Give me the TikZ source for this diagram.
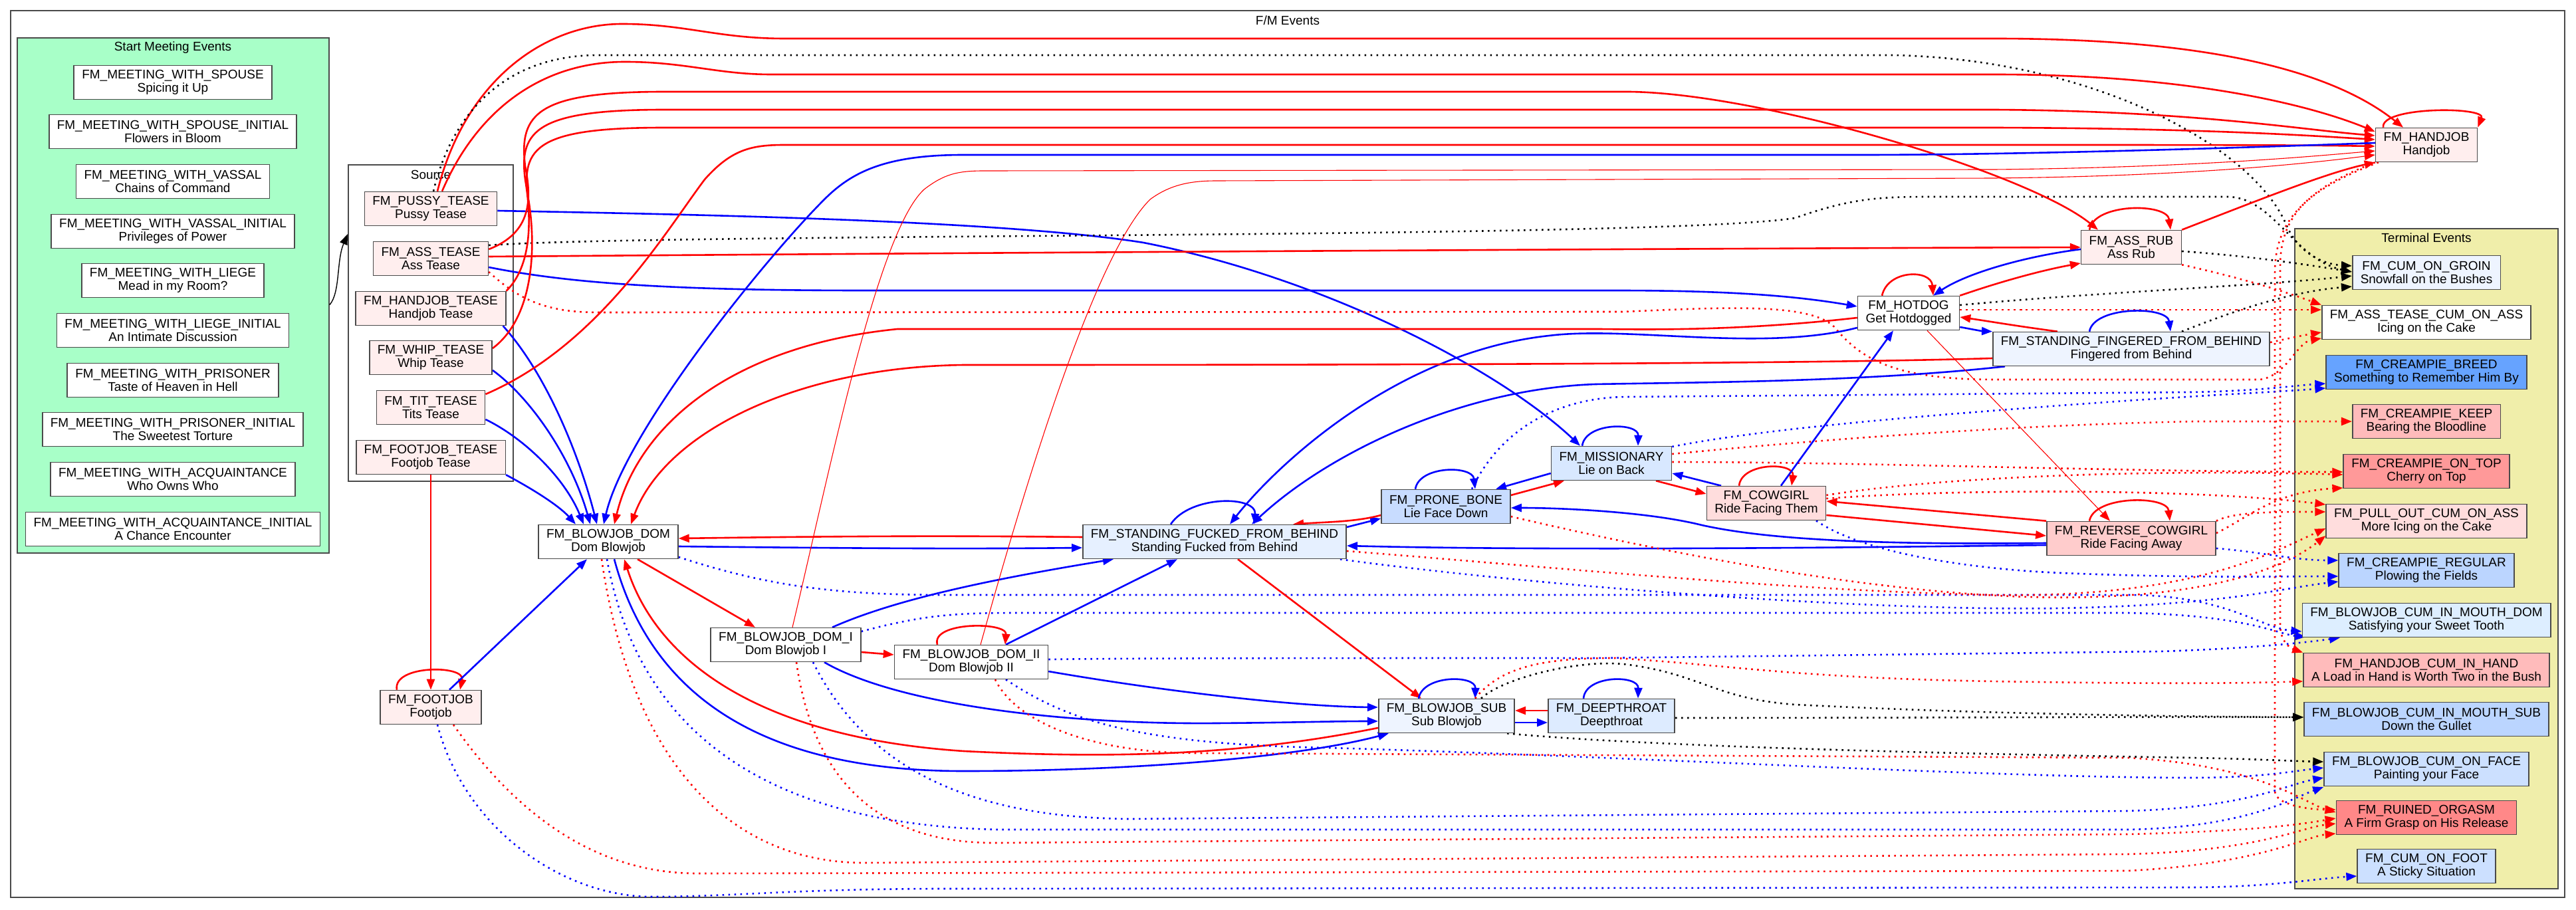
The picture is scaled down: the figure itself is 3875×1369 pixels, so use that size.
\documentclass[tikz,border=0pt]{standalone}
\usepackage{fontspec}
\setmainfont{Liberation Sans}
\usetikzlibrary{arrows.meta,fit}
\pgfdeclarelayer{bg}
\pgfdeclarelayer{edges}
\pgfsetlayers{bg,edges,main}
\definecolor{grayline}{HTML}{4A4A4A}
\definecolor{startbg}{HTML}{A8FFC8}
\definecolor{termbg}{HTML}{F0EEAA}
\definecolor{cPink}{HTML}{FFEEEE}
\definecolor{cSF}{HTML}{E6F0FF}
\definecolor{cFing}{HTML}{EEF4FF}
\definecolor{cMiss}{HTML}{D8E8FF}
\definecolor{cProne}{HTML}{C8DCFF}
\definecolor{cCow}{HTML}{FFDDDD}
\definecolor{cRev}{HTML}{FFCCCC}
\definecolor{cSub}{HTML}{EEF4FF}
\definecolor{cDeep}{HTML}{DDEBFF}
\definecolor{cBreed}{HTML}{66A3FF}
\definecolor{cKeep}{HTML}{FFBBBB}
\definecolor{cTop}{HTML}{FF9999}
\definecolor{cPull}{HTML}{FFDDDD}
\definecolor{cReg}{HTML}{BBD5FF}
\definecolor{cCmd}{HTML}{DDEEFF}
\definecolor{cCih}{HTML}{FFBBBB}
\definecolor{cCms}{HTML}{BBD5FF}
\definecolor{cFace}{HTML}{CCE0FF}
\definecolor{cRuin}{HTML}{FF8888}
\definecolor{cFoot}{HTML}{CCE0FF}
\tikzset{
  ev/.style={draw=grayline, line width=0.8pt, rectangle, align=center, inner xsep=6pt, inner ysep=0pt,
    minimum height=25.5pt, font=\fontsize{9.5}{10}\selectfont, fill=white},
  cl/.style={draw=grayline, line width=0.9pt, inner sep=0pt},
  outerbox/.style={draw=grayline, line width=1pt, inner sep=0pt, fill=white},
  ttl/.style={font=\fontsize{9.5}{10}\selectfont, inner sep=0pt},
  tipA/.style={-{Triangle[length=8pt,width=6pt]}},
  eRS/.style={draw=red, line width=1.3pt, tipA},
  eBS/.style={draw=blue, line width=1.3pt, tipA},
  eRT/.style={draw=red, line width=0.55pt, tipA},
  eRD/.style={draw=red, line width=1.3pt, dash pattern=on 1.3pt off 3.2pt, tipA},
  eBD/.style={draw=blue, line width=1.3pt, dash pattern=on 1.3pt off 3.2pt, tipA},
  eKD/.style={draw=black, line width=1.3pt, dash pattern=on 1.3pt off 3.2pt, tipA},
  eK/.style={draw=black, line width=0.7pt, tipA},
}
\begin{document}
\begin{tikzpicture}[x=0.5pt,y=-0.5pt]
\useasboundingbox (0,0) rectangle (3875,1369);
\begin{pgfonlayer}{bg}
\node[outerbox, fit={(16,16) (3858,1350)}] (outer) {};
\node[ttl] at (1937,31) {F/M Events};
\node[cl, fill=startbg, fit={(26,57) (495,832)}] (startc) {};
\node[ttl] at (260,72) {Start Meeting Events};
\node[cl, fill=white, fit={(524,248) (772,724)}] (sourcec) {};
\node[ttl] at (648,263) {Source};
\node[cl, fill=termbg, fit={(3452,344) (3848,1337)}] (termc) {};
\node[ttl] at (3650,358) {Terminal Events};
\end{pgfonlayer}

% start meeting events
\node[ev] (m1) at (260,124) {FM\_MEETING\_WITH\_SPOUSE\\Spicing it Up};
\node[ev] (m2) at (260,198) {FM\_MEETING\_WITH\_SPOUSE\_INITIAL\\Flowers in Bloom};
\node[ev] (m3) at (260,273) {FM\_MEETING\_WITH\_VASSAL\\Chains of Command};
\node[ev] (m4) at (260,348) {FM\_MEETING\_WITH\_VASSAL\_INITIAL\\Privileges of Power};
\node[ev] (m5) at (260,422) {FM\_MEETING\_WITH\_LIEGE\\Mead in my Room?};
\node[ev] (m6) at (260,497) {FM\_MEETING\_WITH\_LIEGE\_INITIAL\\An Intimate Discussion};
\node[ev] (m7) at (260,572) {FM\_MEETING\_WITH\_PRISONER\\Taste of Heaven in Hell};
\node[ev] (m8) at (260,646) {FM\_MEETING\_WITH\_PRISONER\_INITIAL\\The Sweetest Torture};
\node[ev] (m9) at (260,721) {FM\_MEETING\_WITH\_ACQUAINTANCE\\Who Owns Who};
\node[ev] (m10) at (260,796) {FM\_MEETING\_WITH\_ACQUAINTANCE\_INITIAL\\A Chance Encounter};

% sources
\node[ev, fill=cPink] (pussy) at (648,314) {FM\_PUSSY\_TEASE\\Pussy Tease};
\node[ev, fill=cPink] (asstease) at (648,389) {FM\_ASS\_TEASE\\Ass Tease};
\node[ev, fill=cPink] (hjtease) at (648,464) {FM\_HANDJOB\_TEASE\\Handjob Tease};
\node[ev, fill=cPink] (whip) at (648,538) {FM\_WHIP\_TEASE\\Whip Tease};
\node[ev, fill=cPink] (tit) at (648,613) {FM\_TIT\_TEASE\\Tits Tease};
\node[ev, fill=cPink] (fjtease) at (648,688) {FM\_FOOTJOB\_TEASE\\Footjob Tease};

% middle
\node[ev, fill=cPink] (handjob) at (3650,218) {FM\_HANDJOB\\Handjob};
\node[ev, fill=cPink] (assrub) at (3206,372) {FM\_ASS\_RUB\\Ass Rub};
\node[ev] (hotdog) at (2871,471) {FM\_HOTDOG\\Get Hotdogged};
\node[ev, fill=cFing] (finger) at (3206,525) {FM\_STANDING\_FINGERED\_FROM\_BEHIND\\Fingered from Behind};
\node[ev] (bjdom) at (915,815) {FM\_BLOWJOB\_DOM\\Dom Blowjob};
\node[ev, fill=cSF] (standing) at (1827,815) {FM\_STANDING\_FUCKED\_FROM\_BEHIND\\Standing Fucked from Behind};
\node[ev] (bjone) at (1182,970) {FM\_BLOWJOB\_DOM\_I\\Dom Blowjob I};
\node[ev] (bjtwo) at (1461,996) {FM\_BLOWJOB\_DOM\_II\\Dom Blowjob II};
\node[ev, fill=cMiss] (miss) at (2424,697) {FM\_MISSIONARY\\Lie on Back};
\node[ev, fill=cProne] (prone) at (2175,762) {FM\_PRONE\_BONE\\Lie Face Down};
\node[ev, fill=cCow] (cowgirl) at (2657,757) {FM\_COWGIRL\\Ride Facing Them};
\node[ev, fill=cRev] (reverse) at (3206,810) {FM\_REVERSE\_COWGIRL\\Ride Facing Away};
\node[ev, fill=cSub] (bjsub) at (2176,1077) {FM\_BLOWJOB\_SUB\\Sub Blowjob};
\node[ev, fill=cDeep] (deep) at (2424,1077) {FM\_DEEPTHROAT\\Deepthroat};
\node[ev, fill=cPink] (footjob) at (648,1064) {FM\_FOOTJOB\\Footjob};

% terminal
\node[ev, fill=cFing] (tGroin) at (3650,410) {FM\_CUM\_ON\_GROIN\\Snowfall on the Bushes};
\node[ev] (tAss) at (3650,485) {FM\_ASS\_TEASE\_CUM\_ON\_ASS\\Icing on the Cake};
\node[ev, fill=cBreed] (tBreed) at (3650,560) {FM\_CREAMPIE\_BREED\\Something to Remember Him By};
\node[ev, fill=cKeep] (tKeep) at (3650,634) {FM\_CREAMPIE\_KEEP\\Bearing the Bloodline};
\node[ev, fill=cTop] (tTop) at (3650,709) {FM\_CREAMPIE\_ON\_TOP\\Cherry on Top};
\node[ev, fill=cPull] (tPull) at (3650,784) {FM\_PULL\_OUT\_CUM\_ON\_ASS\\More Icing on the Cake};
\node[ev, fill=cReg] (tReg) at (3650,858) {FM\_CREAMPIE\_REGULAR\\Plowing the Fields};
\node[ev, fill=cCmd] (tCmd) at (3650,933) {FM\_BLOWJOB\_CUM\_IN\_MOUTH\_DOM\\Satisfying your Sweet Tooth};
\node[ev, fill=cCih] (tCih) at (3650,1008) {FM\_HANDJOB\_CUM\_IN\_HAND\\A Load in Hand is Worth Two in the Bush};
\node[ev, fill=cCms] (tCms) at (3650,1082) {FM\_BLOWJOB\_CUM\_IN\_MOUTH\_SUB\\Down the Gullet};
\node[ev, fill=cFace] (tFace) at (3650,1157) {FM\_BLOWJOB\_CUM\_ON\_FACE\\Painting your Face};
\node[ev, fill=cRuin] (tRuin) at (3650,1230) {FM\_RUINED\_ORGASM\\A Firm Grasp on His Release};
\node[ev, fill=cFoot] (tFoot) at (3650,1303) {FM\_CUM\_ON\_FOOT\\A Sticky Situation};

\begin{pgfonlayer}{edges}
% cluster to cluster
\draw[eK] ([shift={(0,14)}]startc.east) .. controls (512,440) and (506,392) .. ([shift={(0,-134)}]sourcec.west);

% pussy tease
\draw[eRS] ([shift={(10,0)}]pussy.north) .. controls (700,120) and (820,36) .. (936,36) .. controls (1030,36) and (1080,58) .. (1180,58) -- (3000,58) .. controls (3300,58) and (3500,100) .. ([shift={(-35,0)}]handjob.north);
\draw[eKD] ([shift={(4,0)}]pussy.north) .. controls (680,170) and (760,83) .. (900,83) -- (2850,83) .. controls (3150,90) and (3390,220) .. (3440,340) .. controls (3460,385) and (3500,398) .. ([shift={(0,-10)}]tGroin.west);
\draw[eRS] ([shift={(17,0)}]pussy.north) .. controls (720,160) and (820,93) .. (940,93) .. controls (1030,93) and (1080,112) .. (1160,112) -- (3000,112) .. controls (3300,112) and (3480,160) .. ([shift={(0,-20)}]handjob.west);
\draw[eBS] ([shift={(0,3)}]pussy.east) .. controls (1000,322) and (1500,330) .. (1720,365) .. controls (2000,420) and (2260,560) .. ([shift={(-47,0)}]miss.north);

% ass tease
\draw[eKD] ([shift={(0,-20)}]asstease.east) .. controls (1000,350) and (2500,360) .. (2700,328) .. controls (2780,300) and (2820,296) .. (2900,296) -- (3350,296) .. controls (3420,296) and (3450,390) .. ([shift={(0,-1)}]tGroin.west);
\draw[eRS] ([shift={(0,-3)}]asstease.east) .. controls (1500,380) and (2500,374) .. (assrub.west);
\draw[eBS] ([shift={(0,13)}]asstease.east) .. controls (850,425) and (1000,437) .. (1300,437) -- (2430,437) .. controls (2600,437) and (2700,445) .. ([shift={(0,-10)}]hotdog.west);
\draw[eRD] ([shift={(0,20)}]asstease.east) .. controls (780,450) and (820,470) .. (900,470) -- (2440,469) .. controls (2600,462) and (2730,455) .. (2762,495) .. controls (2800,540) and (2850,571) .. (3000,571) -- (3400,571) .. controls (3440,565) and (3455,515) .. ([shift={(0,24)}]tAss.west);
\draw[eRS] ([shift={(0,-14)}]asstease.east) .. controls (800,350) and (800,300) .. (790,250) .. controls (780,170) and (810,138) .. (1000,138) -- (2450,138) .. controls (2650,140) and (3050,260) .. ([shift={(-50,0)}]assrub.north);

% handjob tease
\draw[eRS] (hjtease.north east) .. controls (800,400) and (800,330) .. (790,270) .. controls (780,195) and (810,165) .. (1000,165) -- (3000,165) .. controls (3300,167) and (3460,195) .. ([shift={(0,-14)}]handjob.west);
\draw[eBS] ([shift={(-5,0)}]hjtease.south east) .. controls (820,560) and (870,680) .. ([shift={(-17,0)}]bjdom.north);

% whip
\draw[eRS] ([shift={(0,-14)}]whip.east) .. controls (800,480) and (808,380) .. (795,300) .. controls (782,220) and (810,192) .. (1000,192) -- (3000,192) .. controls (3300,193) and (3460,203) .. ([shift={(0,-8)}]handjob.west);
\draw[eBS] ([shift={(0,19)}]whip.east) .. controls (800,600) and (860,690) .. ([shift={(-27,0)}]bjdom.north);

% tit
\draw[eRS] ([shift={(0,-20)}]tit.east) .. controls (900,520) and (1000,350) .. (1060,270) .. controls (1100,225) and (1130,218) .. (1180,218) -- (3000,218) .. controls (3300,218) and (3450,218) .. ([shift={(0,2)}]handjob.west);
\draw[eBS] ([shift={(0,18)}]tit.east) .. controls (790,660) and (850,720) .. ([shift={(-37,0)}]bjdom.north);

% footjob tease
\draw[eBS] (fjtease.south east) .. controls (800,735) and (840,760) .. ([shift={(-49,0)}]bjdom.north);
\draw[eRS] (fjtease.south) -- (footjob.north);

% handjob
\draw[eBS] ([shift={(0,-3)}]handjob.west) .. controls (3300,225) and (3000,233) .. (2800,233) -- (1449,233) .. controls (1330,233) and (1280,260) .. (1240,300) .. controls (1150,390) and (940,650) .. ([shift={(-7,0)}]bjdom.north);
\draw[eRS] ([shift={(-65,0)}]handjob.north) .. controls (3580,160) and (3740,160) .. (handjob.north east);
\draw[eRD] (handjob.south west) .. controls (3480,280) and (3430,320) .. (3430,400) -- (3430,940) .. controls (3430,965) and (3445,975) .. (tCih.north west);
\draw[eRD] ([shift={(5,0)}]handjob.south west) .. controls (3470,285) and (3422,330) .. (3422,410) -- (3422,1190) .. controls (3422,1210) and (3470,1218) .. ([shift={(0,-12)}]tRuin.west);

% footjob
\draw[eRS] ([shift={(-51,0)}]footjob.north) .. controls (590,1000) and (700,1000) .. ([shift={(44,0)}]footjob.north);
\draw[eBS] ([shift={(28,0)}]footjob.north) -- ([shift={(-32,0)}]bjdom.south);
\draw[eBD] ([shift={(10,0)}]footjob.south) .. controls (700,1250) and (850,1349) .. (980,1349) .. controls (1100,1349) and (1200,1337) .. (1420,1337) -- (3300,1335) .. controls (3420,1334) and (3480,1322) .. ([shift={(0,15)}]tFoot.west);
\draw[eRD] ([shift={(34,0)}]footjob.south) .. controls (780,1230) and (900,1314) .. (1050,1314) -- (3200,1310) .. controls (3400,1300) and (3470,1258) .. ([shift={(0,24)}]tRuin.west);

% blowjob dom
\draw[eBS] ([shift={(0,7)}]bjdom.east) .. controls (1300,825) and (1450,826) .. ([shift={(0,9)}]standing.west);
\draw[eRS] ([shift={(0,-7)}]standing.west) .. controls (1450,806) and (1300,806) .. ([shift={(0,-5)}]bjdom.east);
\draw[eRS] ([shift={(44,0)}]bjdom.south) -- ([shift={(-46,0)}]bjone.north);
\draw[eBS] ([shift={(9,0)}]bjdom.south) .. controls (980,1050) and (1150,1160) .. (1450,1160) .. controls (1700,1160) and (1950,1140) .. ([shift={(-87,0)}]bjsub.south);
\draw[eRS] ([shift={(0,18)}]bjsub.west) .. controls (1850,1140) and (1650,1140) .. (1450,1130) .. controls (1150,1110) and (990,1000) .. ([shift={(24,0)}]bjdom.south);
\draw[eBD] ([shift={(0,23)}]bjdom.east) .. controls (1150,880) and (1250,895) .. (1420,895) -- (3200,895) .. controls (3350,895) and (3400,945) .. ([shift={(0,17)}]tCmd.west);
\draw[eBD] ([shift={(-2,0)}]bjdom.south) .. controls (960,1100) and (1150,1240) .. (1500,1248) -- (3200,1248) .. controls (3380,1245) and (3450,1200) .. ([shift={(0,27)}]tFace.west);
\draw[eRD] ([shift={(-10,0)}]bjdom.south) .. controls (950,1150) and (1100,1298) .. (1300,1298) -- (3200,1285) .. controls (3400,1280) and (3460,1245) .. ([shift={(0,9)}]tRuin.west);

% dom blowjob I
\draw[eRS] ([shift={(0,11)}]bjone.east) -- ([shift={(0,-11)}]bjtwo.west);
\draw[eBS] ([shift={(70,0)}]bjone.north) .. controls (1350,900) and (1500,870) .. ([shift={(-152,0)}]standing.south);
\draw[eRT] ([shift={(10,0)}]bjone.north) .. controls (1250,700) and (1320,350) .. (1390,285) .. controls (1420,262) and (1440,257) .. (1480,257) -- (3000,255) .. controls (3300,252) and (3480,235) .. ([shift={(0,9)}]handjob.west);
\draw[eBS] ([shift={(58,0)}]bjone.south) .. controls (1350,1060) and (1600,1090) .. (1829,1088) .. controls (1950,1087) and (2000,1085) .. ([shift={(0,8)}]bjsub.west);
\draw[eBD] ([shift={(0,-20)}]bjone.east) .. controls (1400,922) and (1450,922) .. (1550,922) -- (3200,922) .. controls (3380,925) and (3430,955) .. ([shift={(6,25)}]tCmd.west);
\draw[eBD] ([shift={(41,0)}]bjone.south) .. controls (1300,1150) and (1450,1230) .. (1700,1232) -- (3200,1220) .. controls (3380,1215) and (3440,1180) .. ([shift={(0,13)}]tFace.west);
\draw[eRD] ([shift={(16,0)}]bjone.south) .. controls (1220,1150) and (1300,1270) .. (1500,1268) -- (3200,1255) .. controls (3400,1250) and (3460,1240) .. ([shift={(0,1)}]tRuin.west);

% dom blowjob II
\draw[eRS] ([shift={(-51,0)}]bjtwo.north) .. controls (1400,935) and (1515,935) .. ([shift={(51,0)}]bjtwo.north);
\draw[eBS] ([shift={(52,0)}]bjtwo.north) -- ([shift={(-56,0)}]standing.south);
\draw[eRT] ([shift={(14,0)}]bjtwo.north) .. controls (1550,700) and (1650,380) .. (1730,300) .. controls (1760,278) and (1790,272) .. (1830,272) -- (3000,268) .. controls (3300,265) and (3480,245) .. ([shift={(0,15)}]handjob.west);
\draw[eBS] ([shift={(0,14)}]bjtwo.east) .. controls (1750,1040) and (1950,1063) .. ([shift={(0,-13)}]bjsub.west);
\draw[eBD] ([shift={(0,-4)}]bjtwo.east) .. controls (1700,990) and (2000,990) .. (2400,990) -- (3250,980) .. controls (3400,975) and (3480,965) .. ([shift={(-130,0)}]tCmd.south);
\draw[eBD] ([shift={(52,0)}]bjtwo.south) .. controls (1600,1080) and (1700,1120) .. (2000,1125) .. controls (2500,1140) and (3000,1170) .. (3300,1170) .. controls (3400,1170) and (3450,1160) .. ([shift={(0,-2)}]tFace.west);
\draw[eRD] ([shift={(36,0)}]bjtwo.south) .. controls (1530,1090) and (1650,1133) .. (1800,1133) -- (3200,1140) .. controls (3400,1150) and (3470,1210) .. ([shift={(0,-8)}]tRuin.west);

% standing fucked
\draw[eBS] ([shift={(-66,0)}]standing.north) .. controls (1790,745) and (1890,745) .. ([shift={(60,0)}]standing.north);
\draw[eRS] ([shift={(35,0)}]standing.south) -- ([shift={(-38,0)}]bjsub.north);
\draw[eBS] ([shift={(0,-22)}]standing.east) -- ([shift={(0,18)}]prone.west);
\draw[eRS] ([shift={(0,13)}]prone.west) .. controls (2040,785) and (2000,785) .. ([shift={(118,0)}]standing.north);
\draw[eBS] ([shift={(0,22)}]hotdog.west) .. controls (2650,530) and (2450,490) .. (2330,505) .. controls (2100,530) and (1920,700) .. ([shift={(23,0)}]standing.north);
\draw[eBS] ([shift={(-190,0)}]finger.south) .. controls (2800,575) and (2550,575) .. (2400,578) .. controls (2200,585) and (2000,680) .. ([shift={(56,0)}]standing.north);
\draw[eBS] ([shift={(0,10)}]reverse.west) .. controls (2700,825) and (2300,828) .. ([shift={(0,6)}]standing.east);
\draw[eRD] ([shift={(0,14)}]standing.east) .. controls (2300,850) and (2700,890) .. (3000,895) .. controls (3300,900) and (3420,830) .. ([shift={(0,11)}]tPull.west);
\draw[eBD] ([shift={(-10,0)}]standing.south east) .. controls (2300,880) and (2800,920) .. (3100,915) .. controls (3350,910) and (3430,885) .. ([shift={(0,17)}]tReg.west);

% prone bone
\draw[eBS] ([shift={(-46,0)}]prone.north) .. controls (2135,700) and (2215,700) .. ([shift={(44,0)}]prone.north);
\draw[eRS] ([shift={(0,-17)}]prone.east) -- ([shift={(-71,0)}]miss.south);
\draw[eBS] ([shift={(0,15)}]miss.west) -- ([shift={(75,0)}]prone.north);
\draw[eBD] ([shift={(39,0)}]prone.north) .. controls (2260,640) and (2350,597) .. (2450,597) -- (3300,590) .. controls (3400,588) and (3450,580) .. ([shift={(0,17)}]tBreed.west);
\draw[eRD] ([shift={(0,15)}]prone.east) .. controls (2500,830) and (2800,890) .. (3050,898) .. controls (3300,905) and (3430,860) .. ([shift={(0,22)}]tPull.west);

% missionary
\draw[eBS] ([shift={(-44,0)}]miss.north) .. controls (2385,635) and (2465,635) .. ([shift={(40,0)}]miss.north);
\draw[eRS] ([shift={(67,0)}]miss.south) -- ([shift={(0,-14)}]cowgirl.west);
\draw[eBS] ([shift={(-68,0)}]cowgirl.north) -- ([shift={(0,15)}]miss.east);
\draw[eBD] ([shift={(0,-25)}]miss.east) .. controls (2650,645) and (2900,625) .. (3100,610) .. controls (3300,595) and (3420,590) .. ([shift={(0,24)}]tBreed.west);
\draw[eRD] ([shift={(0,-14)}]miss.east) .. controls (2700,665) and (3000,640) .. (3300,634) -- (tKeep.west);
\draw[eRD] ([shift={(0,-2)}]miss.east) .. controls (2800,695) and (3200,710) .. ([shift={(0,1)}]tTop.west);

% cowgirl
\draw[eRS] ([shift={(-41,0)}]cowgirl.north) .. controls (2620,695) and (2700,695) .. ([shift={(38,0)}]cowgirl.north);
\draw[eBS] ([shift={(22,0)}]cowgirl.north) -- ([shift={(-23,0)}]hotdog.south);
\draw[eRS] ([shift={(0,18)}]cowgirl.east) -- ([shift={(0,-4)}]reverse.west);
\draw[eRS] (reverse.north west) -- ([shift={(0,-3)}]cowgirl.east);
\draw[eRD] ([shift={(0,-12)}]cowgirl.east) .. controls (2900,720) and (3200,705) .. ([shift={(0,5)}]tTop.west);
\draw[eRD] ([shift={(0,-7)}]cowgirl.east) .. controls (2950,735) and (3300,735) .. ([shift={(0,-25)}]tPull.west);
\draw[eBD] ([shift={(75,0)}]cowgirl.south) .. controls (2800,830) and (2950,855) .. (3100,862) .. controls (3300,870) and (3420,867) .. ([shift={(0,9)}]tReg.west);

% reverse cowgirl
\draw[eRS] ([shift={(-63,0)}]reverse.north) .. controls (3150,745) and (3260,745) .. ([shift={(58,0)}]reverse.north);
\draw[eBS] ([shift={(0,7)}]reverse.west) .. controls (2800,820) and (2650,810) .. (2560,790) .. controls (2480,770) and (2350,764) .. ([shift={(0,2)}]prone.east);
\draw[eRT] ([shift={(28,0)}]hotdog.south) -- ([shift={(-32,0)}]reverse.north);
\draw[eRD] ([shift={(0,-8)}]reverse.east) .. controls (3380,780) and (3420,740) .. ([shift={(0,25)}]tTop.west);
\draw[eRD] (reverse.north east) .. controls (3360,770) and (3420,770) .. ([shift={(0,-14)}]tPull.west);
\draw[eBD] ([shift={(0,15)}]reverse.east) .. controls (3400,830) and (3450,843) .. ([shift={(0,-15)}]tReg.west);

% hotdog
\draw[eRS] ([shift={(-40,0)}]hotdog.north) .. controls (2840,405) and (2905,405) .. ([shift={(37,0)}]hotdog.north);
\draw[eRS] (hotdog.north east) .. controls (3020,420) and (3080,405) .. ([shift={(0,24)}]assrub.west);
\draw[eBS] ([shift={(0,3)}]assrub.west) .. controls (3050,385) and (2960,410) .. ([shift={(37,0)}]hotdog.north);
\draw[eRS] ([shift={(-111,0)}]finger.north) .. controls (3030,490) and (2990,483) .. ([shift={(0,6)}]hotdog.east);
\draw[eBS] ([shift={(0,21)}]hotdog.east) .. controls (2965,495) and (2980,498) .. (finger.north west);
\draw[eKD] ([shift={(0,-12)}]hotdog.east) .. controls (3150,440) and (3400,430) .. ([shift={(0,5)}]tGroin.west);
\draw[eRD] ([shift={(0,-5)}]hotdog.east) .. controls (3150,466) and (3400,466) .. ([shift={(0,-19)}]tAss.west);
\draw[eRS] ([shift={(0,7)}]hotdog.west) .. controls (2600,500) and (2450,495) .. (2400,495) -- (1350,495) .. controls (1100,520) and (960,640) .. ([shift={(9,0)}]bjdom.north);

% fingered
\draw[eBS] ([shift={(-63,0)}]finger.north) .. controls (3150,460) and (3260,460) .. ([shift={(59,0)}]finger.north);
\draw[eRS] ([shift={(0,14)}]finger.west) .. controls (2700,548) and (2000,549) .. (1450,549) .. controls (1200,552) and (1000,650) .. ([shift={(34,0)}]bjdom.north);
\draw[eKD] ([shift={(76,0)}]finger.north) .. controls (3330,480) and (3430,440) .. ([shift={(0,21)}]tGroin.west);
\draw[eRD] ([shift={(0,-10)}]finger.east) .. controls (3440,510) and (3460,505) .. ([shift={(0,15)}]tAss.west);

% ass rub
\draw[eRS] ([shift={(-63,0)}]assrub.north) .. controls (3150,305) and (3260,305) .. ([shift={(59,0)}]assrub.north);
\draw[eRS] (assrub.north east) .. controls (3400,300) and (3500,260) .. (handjob.south west);
\draw[eKD] ([shift={(0,6)}]assrub.east) .. controls (3380,385) and (3450,395) .. ([shift={(0,-1)}]tGroin.west);
\draw[eRD] (assrub.south east) .. controls (3380,420) and (3440,440) .. (tAss.north west);

% blowjob sub / deepthroat
\draw[eBS] ([shift={(-42,0)}]bjsub.north) .. controls (2140,1015) and (2220,1015) .. ([shift={(43,0)}]bjsub.north);
\draw[eBS] ([shift={(-42,0)}]deep.north) .. controls (2385,1015) and (2465,1015) .. ([shift={(40,0)}]deep.north);
\draw[eRS] ([shift={(0,-8)}]deep.west) -- ([shift={(0,-8)}]bjsub.east);
\draw[eBS] ([shift={(0,10)}]bjsub.east) -- ([shift={(0,10)}]deep.west);
\draw[eKD] ([shift={(52,0)}]bjsub.north) .. controls (2260,1020) and (2380,990) .. (2450,1000) .. controls (2560,1015) and (2580,1051) .. (2700,1060) .. controls (3000,1075) and (3300,1078) .. ([shift={(0,-3)}]tCms.west);
\draw[eKD] ([shift={(0,3)}]deep.east) .. controls (2900,1080) and (3200,1078) .. ([shift={(0,-3)}]tCms.west);
\draw[eKD] ([shift={(-12,0)}]bjsub.south east) .. controls (2500,1125) and (3000,1135) .. (3300,1140) .. controls (3400,1142) and (3450,1145) .. ([shift={(0,-11)}]tFace.west);
\draw[eRD] ([shift={(43,0)}]bjsub.north) .. controls (2260,1000) and (2330,990) .. (2430,990) .. controls (2600,1000) and (2700,1020) .. (3000,1025) .. controls (3300,1030) and (3400,1027) .. ([shift={(0,17)}]tCih.west);
\end{pgfonlayer}
\end{tikzpicture}
\end{document}
